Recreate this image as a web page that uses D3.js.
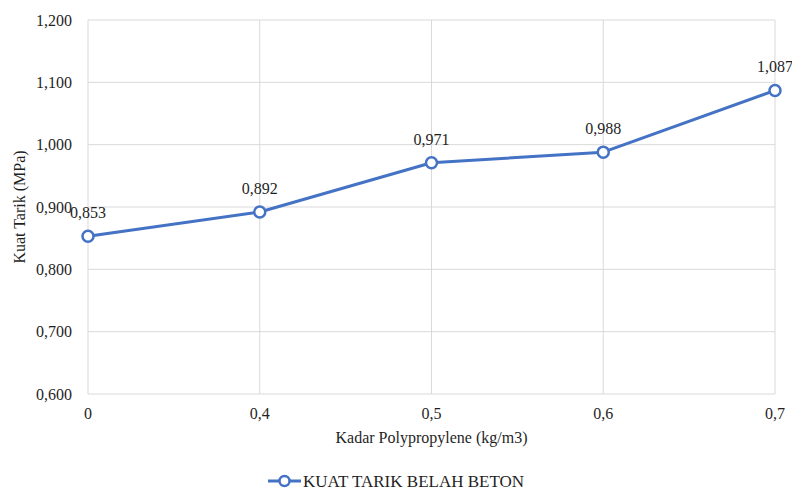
<!DOCTYPE html>
<html>
<head>
<meta charset="utf-8">
<script src="https://cdn.jsdelivr.net/npm/d3@7/dist/d3.min.js"></script>
</head>
<body style="margin:0">
<svg id="chart" width="792" height="490"></svg>
<script>
// Tensile splitting strength vs polypropylene content
const categories = ["0", "0,4", "0,5", "0,6", "0,7"];
const kuatTarik = [0.853, 0.892, 0.971, 0.988, 1.087];
const yTicks = [0.6, 0.7, 0.8, 0.9, 1.0, 1.1, 1.2];
const seriesName = "KUAT TARIK BELAH BETON";
const xTitle = "Kadar Polypropylene (kg/m3)";
const yTitle = "Kuat Tarik (MPa)";

const fmt = v => d3.format(".3f")(v).replace(".", ",");

const svg = d3.select("#chart");
const m = { left: 88, right: 775, top: 20, bottom: 394 };
const blue = "#4472C4";
const ink = "#1f1f1f";

const x = d3.scalePoint().domain(categories).range([m.left, m.right]);
const y = d3.scaleLinear().domain([0.6, 1.2]).range([m.bottom, m.top]);

// horizontal gridlines
svg.append("g").selectAll("line").data(yTicks).join("line")
  .attr("x1", m.left).attr("x2", m.right)
  .attr("y1", d => y(d)).attr("y2", d => y(d))
  .attr("stroke", "#d9d9d9").attr("stroke-width", 1);

// vertical gridlines at each category
svg.append("g").selectAll("line").data(categories).join("line")
  .attr("x1", d => x(d)).attr("x2", d => x(d))
  .attr("y1", m.top).attr("y2", m.bottom)
  .attr("stroke", "#d9d9d9").attr("stroke-width", 1);

// shared text styling
const txt = sel => sel
  .style("font-family", () => '"Liberation Serif"')
  .attr("font-size", 16)
  .attr("fill", ink);

// y tick labels
svg.append("g").selectAll("text").data(yTicks).join("text")
  .call(txt)
  .attr("x", 72).attr("y", d => y(d) + 5.5)
  .attr("text-anchor", "end")
  .text(d => fmt(d));

// x tick labels
svg.append("g").selectAll("text").data(categories).join("text")
  .call(txt)
  .attr("x", d => x(d)).attr("y", 419)
  .attr("text-anchor", "middle")
  .text(d => d);

// axis titles
svg.append("text")
  .call(txt)
  .attr("x", (m.left + m.right) / 2).attr("y", 443)
  .attr("text-anchor", "middle")
  .text(xTitle);

svg.append("text")
  .call(txt)
  .attr("transform", `translate(25, ${(m.top + m.bottom) / 2}) rotate(-90)`)
  .attr("text-anchor", "middle")
  .text(yTitle);

// series line
const pts = categories.map((c, i) => ({ c, v: kuatTarik[i] }));
svg.append("path")
  .datum(pts)
  .attr("fill", "none").attr("stroke", blue)
  .attr("stroke-width", 3).attr("stroke-linejoin", "round")
  .attr("d", d3.line().x(d => x(d.c)).y(d => y(d.v)));

// markers
svg.append("g").selectAll("circle").data(pts).join("circle")
  .attr("cx", d => x(d.c)).attr("cy", d => y(d.v)).attr("r", 5.5)
  .attr("fill", "#fff").attr("stroke", blue).attr("stroke-width", 2.5);

// data labels
svg.append("g").selectAll("text").data(pts).join("text")
  .call(txt)
  .attr("x", d => x(d.c)).attr("y", d => y(d.v) - 18)
  .attr("text-anchor", "middle")
  .text(d => fmt(d.v));

// legend
const lg = svg.append("g").attr("transform", "translate(268, 481)");
lg.append("line").attr("x1", 0).attr("x2", 33).attr("y1", 0).attr("y2", 0)
  .attr("stroke", blue).attr("stroke-width", 3);
lg.append("circle").attr("cx", 16.5).attr("cy", 0).attr("r", 5)
  .attr("fill", "#fff").attr("stroke", blue).attr("stroke-width", 2.5);
lg.append("text")
  .call(txt)
  .attr("font-size", 17)
  .attr("x", 35).attr("y", 6)
  .text(seriesName);
</script>
</body>
</html>
